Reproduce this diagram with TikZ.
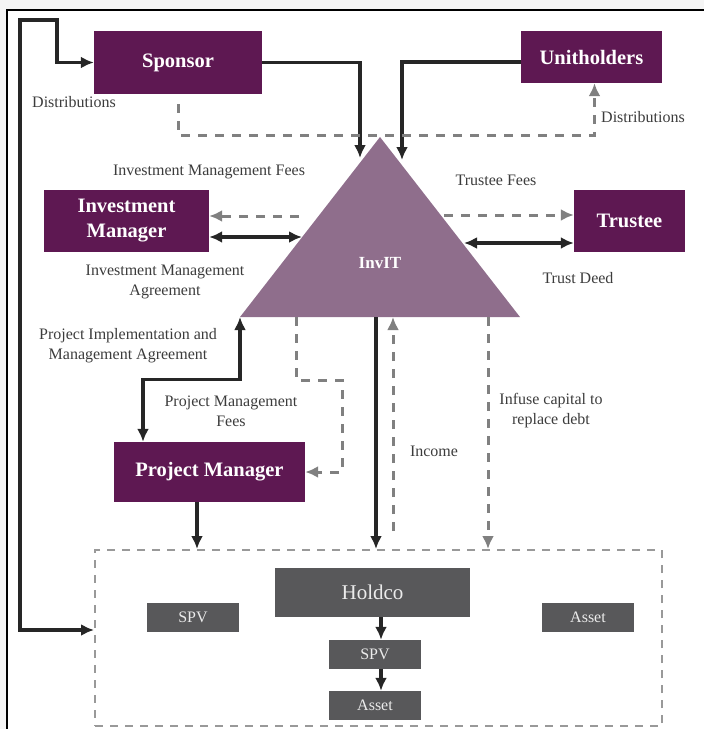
\documentclass[tikz,border=0pt]{standalone}
\usepackage{fontspec}
\setmainfont{Liberation Serif}
\usepackage{xcolor}
\usepackage{tikz}
\usetikzlibrary{arrows,arrows.meta}
\definecolor{plum}{RGB}{94,24,82}
\definecolor{mauve}{RGB}{143,110,140}
\definecolor{slate}{RGB}{88,88,90}
\definecolor{ink}{RGB}{60,60,60}

\begin{document}
\begin{tikzpicture}[x=1pt, y=-1pt, >={Latex[length=13pt,width=12pt]},
  main/.style = {fill=plum, text=white, font=\fontsize{20.5}{25}\selectfont\bfseries, align=center, inner sep=0pt},
  sub/.style = {fill=slate, text=white!92!black, font=\fontsize{16}{19}\selectfont, inner sep=0pt, minimum width=92, minimum height=29},
  lbl/.style = {text=ink, font=\fontsize{16}{20}\selectfont, align=center, inner sep=0pt},
  link/.style = {draw=black!85, line width=3.2pt},
  dline/.style = {draw=black!50, line width=3pt, dash pattern=on 9pt off 8pt, ->}]
\useasboundingbox (0,0) rectangle (704,729);
\fill[black!4] (0,0) rectangle (704,10);
\fill[black!4] (0,0) rectangle (7,729);
\draw[line width=2pt] (7,729) -- (7,10) -- (704,10);

\node[main, minimum width=168, minimum height=63] (sponsor) at (178,62.5) {Sponsor};
\node[main, minimum width=141, minimum height=52] (unit) at (591.5,57) {Unitholders};
\node[main, minimum width=165, minimum height=62] (im) at (126.5,221) {Investment\\Manager};
\node[main, minimum width=111, minimum height=62] (trustee) at (629.5,221) {Trustee};
\node[main, minimum width=191, minimum height=60] (pm) at (209.5,472) {Project Manager};

\fill[mauve] (380,137) coordinate (apex) -- (520,317) coordinate (rc) -- (240,317) coordinate (lc) -- cycle;
\node[text=white, font=\fontsize{17}{20}\selectfont\bfseries] (invit) at (380,263) {InvIT};

\node[draw=black!40, line width=2pt, dash pattern=on 8pt off 7pt, minimum width=567, minimum height=176] (pool) at (378.5,638) {};
\node[sub, minimum width=195, minimum height=49, font=\fontsize{21}{24}\selectfont] (holdco) at (372.5,592.5) {Holdco};
\node[sub] (spvl) at (193,617.5) {SPV};
\node[sub] (assetr) at (588,617.5) {Asset};
\node[sub] (spvm) at (375,654.5) {SPV};
\node[sub] (assetm) at (375,705.5) {Asset};

\coordinate (sIn) at (360,158);
\coordinate (uIn) at (402,160);
\coordinate (imFee) at (299,216);
\coordinate (imAgr) at (302,237);
\coordinate (trFee) at (444,215);
\coordinate (trDeed) at (464,243);
\coordinate (pmFee) at (296,317);
\coordinate (down) at (376,317);
\coordinate (inc) at (393,317);
\coordinate (infuse) at (488,317);

\draw[link, <->] (sponsor.west) -| (57,20) -| (20,630) -- ([yshift=8]pool.west);
\draw[link, ->] (sponsor.east) -| (sIn);
\draw[link, ->] ([yshift=-5]unit.west) -| (uIn);
\draw[dline] ([yshift=-10]sponsor.south) |- ([xshift=3,yshift=-52]unit.south) -- ([xshift=3]unit.south);
\draw[dline] (imFee) -- (imFee -| im.east);
\draw[link, <->] (imAgr -| im.east) -- (imAgr);
\draw[dline] (trFee) -- (trFee -| trustee.west);
\draw[link, <->] (trDeed) -- (trDeed -| trustee.west);
\draw[link, <->] (lc) |- ([xshift=-66.5,yshift=62]pm.north) -- ([xshift=-66.5]pm.north);
\draw[dline] (pmFee) |- (342,380) |- (pm.east);
\draw[link, ->] ([xshift=-12.5]pm.south) -- ([xshift=-12.5]pm.south |- pool.north);
\draw[link, ->] (down) -- (down |- pool.north);
\draw[dline] ([yshift=18]inc |- pool.north) -- (inc);
\draw[dline] (infuse) -- (infuse |- pool.north);
\draw[link, ->] ([xshift=6]spvm.north |- holdco.south) -- ([xshift=6]spvm.north);
\draw[link, ->] ([xshift=6]assetm.north |- spvm.south) -- ([xshift=6]assetm.north);

\node[lbl] (distL) at (74,102) {Distributions};
\node[lbl] (distR) at (643,117) {Distributions};
\node[lbl] (imfees) at (209,172) {Investment Management Fees};
\node[lbl] (trfees) at (496,180) {Trustee Fees};
\node[lbl] (imagr) at (165,282) {Investment Management\\Agreement};
\node[lbl] (deed) at (578,278) {Trust Deed};
\node[lbl] (pia) at (128,346) {Project Implementation and\\Management Agreement};
\node[lbl] (pmfees) at (231,411) {Project Management\\Fees};
\node[lbl] (income) at (434,451) {Income};
\node[lbl] (infcap) at (551,411) {Infuse capital to\\replace debt};
\end{tikzpicture}
\end{document}
